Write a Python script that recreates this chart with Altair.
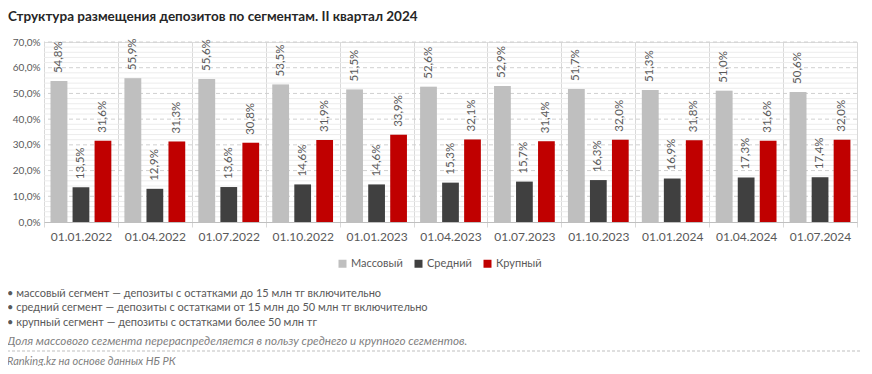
import altair as alt
import pandas as pd

dates = ["01.01.2022", "01.04.2022", "01.07.2022", "01.10.2022", "01.01.2023",
         "01.04.2023", "01.07.2023", "01.10.2023", "01.01.2024", "01.04.2024", "01.07.2024"]
series = ["Массовый", "Средний", "Крупный"]
mass = [54.8, 55.9, 55.6, 53.5, 51.5, 52.6, 52.9, 51.7, 51.3, 51.0, 50.6]
mid = [13.5, 12.9, 13.6, 14.6, 14.6, 15.3, 15.7, 16.3, 16.9, 17.3, 17.4]
large = [31.6, 31.3, 30.8, 31.9, 33.9, 32.1, 31.4, 32.0, 31.8, 31.6, 32.0]
colors = ["#bfbfbf", "#404040", "#c00000"]

title_text = "Структура размещения депозитов по сегментам. II квартал 2024"
bullets = [
    "• массовый сегмент — депозиты с остатками до 15 млн тг включительно",
    "• средний сегмент — депозиты с остатками от 15 млн до 50 млн тг включительно",
    "• крупный сегмент — депозиты с остатками более 50 млн тг",
]
note_text = "Доля массового сегмента перераспределяется в пользу среднего и крупного сегментов."
source_text = "Ranking.kz на основе данных НБ РК"

y_ticks = [0, 10, 20, 30, 40, 50, 60, 70]
major_grid = [10, 20, 30, 40, 50, 60, 70]
minor_grid = [2, 4, 6, 8, 12, 14, 16, 18, 22, 24, 26, 28, 32, 34, 36, 38,
              42, 44, 46, 48, 52, 54, 56, 58, 62, 64, 66, 68]

FONT = "Lato"
TXT = "#595959"

rows = []
for s, vals in zip(series, [mass, mid, large]):
    for d, v in zip(dates, vals):
        rows.append({"date": d, "series": s, "value": v})
df = pd.DataFrame(rows)

W, H = 813, 180

xenc = alt.X("date:N", sort=dates,
             scale=alt.Scale(paddingInner=0, paddingOuter=0),
             axis=alt.Axis(title=None, labelAngle=0, labelFont=FONT, labelFontSize=12,
                           labelColor=TXT, labelPadding=4, domainColor="#bfbfbf",
                           tickColor="#d9d9d9", tickSize=5, tickBand="extent",
                           grid=True, gridColor="#d9d9d9", gridWidth=1))
yscale = alt.Scale(domain=[0, 70], nice=False)
yaxis = alt.Axis(title=None, values=y_ticks,
                 labelExpr="replace(format(datum.value, '.1f'), '.', ',') + '%'",
                 labelFont=FONT, labelFontSize=10, labelColor=TXT,
                 domain=False, ticks=False, grid=False, labelPadding=4)
yenc = alt.Y("value:Q", scale=yscale, axis=yaxis)
xoff = alt.XOffset("series:N", sort=series,
                   scale=alt.Scale(paddingInner=0.24, paddingOuter=0.3))

minor = alt.Chart(pd.DataFrame({"value": minor_grid})).mark_rule(
    color="#ececec", strokeWidth=1).encode(y=yenc)
major = alt.Chart(pd.DataFrame({"value": major_grid})).mark_rule(
    color="#d0d0d0", strokeWidth=1, strokeDash=[4, 3]).encode(y=yenc)

base = alt.Chart(df)
shadow = base.mark_bar(color="#000000", opacity=0.10, xOffset=2.5).encode(
    x=xenc, xOffset=xoff, y=yenc)
bars = base.mark_bar().encode(
    x=xenc, xOffset=xoff, y=yenc,
    color=alt.Color("series:N", sort=series,
                    scale=alt.Scale(domain=series, range=colors),
                    legend=alt.Legend(title=None, orient="none", direction="horizontal",
                                      legendX=293, legendY=216, symbolType="square",
                                      symbolSize=64, symbolStrokeWidth=0,
                                      labelFont=FONT, labelFontSize=11, labelColor=TXT,
                                      columnPadding=10, labelOffset=3)))
labels = base.mark_text(angle=270, align="left", baseline="middle", dx=8,
                        font=FONT, fontSize=11.5, color=TXT).encode(
    x=xenc, xOffset=xoff, y=yenc,
    text=alt.Text("lab:N")).transform_calculate(
    lab="replace(format(datum.value, '.1f'), '.', ',') + '%'")

title = alt.Chart(pd.DataFrame({"t": [title_text]})).mark_text(
    align="left", baseline="middle", font=FONT, fontSize=13.5, fontWeight="bold",
    color="#262626").encode(x=alt.value(-36), y=alt.value(-25), text="t:N")

def line_text(txt, ypix, italic=False, size=11):
    return alt.Chart(pd.DataFrame({"t": [txt]})).mark_text(
        align="left", baseline="middle", font=FONT, fontSize=size,
        fontStyle="italic" if italic else "normal",
        color="#7f7f7f" if italic else TXT).encode(
        x=alt.value(-37), y=alt.value(ypix), text="t:N")

b1 = line_text(bullets[0], 252)
b2 = line_text(bullets[1], 266)
b3 = line_text(bullets[2], 281)
note = line_text(note_text, 299, italic=True, size=11.7)
sep = alt.Chart(pd.DataFrame({"a": [0]})).mark_rule(
    color="#bfbfbf", strokeDash=[3, 2], strokeWidth=1).encode(
    x=alt.value(-42), x2=alt.value(826), y=alt.value(309))
source = line_text(source_text, 320, italic=True, size=11)

chart = alt.layer(minor, major, shadow, bars, labels, title, b1, b2, b3, note, sep, source).properties(
    width=W, height=H,
    autosize=alt.AutoSizeParams(type="none"),
    padding={"left": 36, "top": 34, "right": 5, "bottom": 144},
).configure_view(stroke=None).configure(background="white")

chart.save("out.html", embed_options={"renderer": "svg", "actions": False})
